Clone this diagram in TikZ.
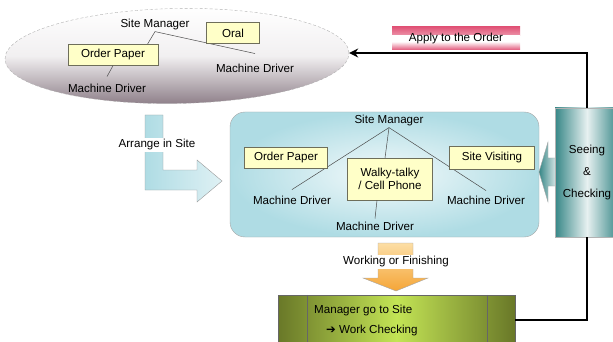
\documentclass[tikz,border=0pt]{standalone}
\usepackage{fontspec}
\setmainfont{Liberation Sans}
\newfontfamily\dejavu{DejaVu Sans}
\usetikzlibrary{shapes.geometric,arrows.meta}
\definecolor{boxy}{RGB}{255,255,200}
\definecolor{boxline}{RGB}{110,110,90}
\definecolor{ellbot}{RGB}{140,125,135}
\definecolor{pinkc}{RGB}{225,85,120}
\definecolor{bluec}{RGB}{175,220,228}
\definecolor{tealc}{RGB}{55,135,135}
\definecolor{olivec}{RGB}{105,120,40}
\definecolor{limec}{RGB}{195,228,85}
\definecolor{orlight}{RGB}{252,222,165}
\definecolor{ordark}{RGB}{245,165,55}
\definecolor{arrblue}{RGB}{175,220,228}
\tikzset{
  txt/.style={inner sep=1pt},
  ybox/.style={draw=boxline, fill=boxy, minimum height=21pt, inner sep=2pt},
  thin line/.style={draw=black!70, line width=0.5pt},
  bigline/.style={line width=2.2pt, draw=black},
  lbl/.style={fill=white, inner sep=1.5pt}
}
\begin{document}
\begin{tikzpicture}[x=1pt,y=-1pt,font=\fontsize{11.6}{13.5}\selectfont]
\useasboundingbox (0,0) rectangle (613,342);

% ---------- top ellipse ----------
\node[ellipse, minimum width=344pt, minimum height=95pt, inner sep=0, rotate=1,
      draw=gray!60, densely dashed, top color=white, bottom color=ellbot,
      middle color=white!88!ellbot] (ell) at (177,56) {};
\node[txt] (sm1) at (155,25) {Site Manager};
\node[txt] (md1r) at (255,68) {Machine Driver};
\node[txt] (md1l) at (107,88) {Machine Driver};
\draw[thin line] (sm1.south) -- (147,45);
\draw[thin line] (sm1.south) -- ([yshift=9pt]md1r.north);
\node[ybox, minimum width=53pt] (oral) at (233,33) {Oral};
\node[ybox, minimum width=90pt] (op1) at (113,55) {Order Paper};
\draw[thin line] (op1.south) -- ([yshift=6pt]md1l.north);

% ---------- Apply banner ----------
\node[minimum width=128pt, minimum height=23pt, inner sep=0,
  path picture={
    \shade[top color=pinkc, bottom color=white] (path picture bounding box.north west) rectangle ([yshift=3pt]path picture bounding box.east);
    \shade[top color=white, bottom color=pinkc] ([yshift=-3pt]path picture bounding box.west) rectangle (path picture bounding box.south east);
    \fill[white] ([yshift=3pt]path picture bounding box.west) rectangle ([yshift=-3pt]path picture bounding box.east);
  }] (apply) at (456,38.5) {Apply to the Order};

% ---------- main box ----------
\node[rounded corners=15pt, minimum width=309pt, minimum height=125pt, draw=gray!70,
      inner color=white!85!bluec, outer color=bluec] (main) at (384.5,174.5) {};
\node[txt] (sm2) at (389,121) {Site Manager};
\node[txt] (md2l) at (292,200) {Machine Driver};
\node[txt] (md2r) at (486,200) {Machine Driver};
\node[txt] (md2b) at (375,226) {Machine Driver};
\draw[thin line] (sm2.south) -- ([yshift=5pt]md2l.north);
\draw[thin line] (sm2.south) -- (385,158);
\draw[thin line] (sm2.south) -- ([yshift=4pt]md2r.north);
\node[ybox, minimum width=83pt] (op2) at (286,157.5) {Order Paper};
\node[ybox, minimum width=85pt, minimum height=42pt, align=center] (wt) at (390,179) {Walky-talky\\/ Cell Phone};
\node[ybox, minimum width=85pt, minimum height=23pt] (sv) at (492,158) {Site Visiting};
\draw[thin line] ([xshift=-13pt]wt.south) -- ([yshift=2pt]md2b.north);

% ---------- Arrange in Site arrow ----------
\draw[draw=gray!80, left color=arrblue, right color=white!60!arrblue]
  (145,115) -- (163,115) -- (163,170) -- (197,170) -- (197,160) -- (222,181)
  -- (197,202) -- (197,190) -- (145,190) -- cycle;
\node[lbl] (arr) at (157,145) {Arrange in Site};

% ---------- Seeing & Checking ----------
\draw[draw=gray!70, left color=tealc, right color=white!80!tealc]
  (556,158) -- (548,158) -- (548,142) -- (539,172) -- (548,202) -- (548,186) -- (556,186) -- cycle;
\node[minimum width=64pt, minimum height=129pt, inner sep=0, draw=gray!60,
      left color=tealc, right color=tealc, middle color=white!88!tealc,
      align=center, font=\fontsize{11.6}{22}\selectfont] (seeing) at (587,172.5)
      {Seeing\\\&\\Checking};

% ---------- Working or Finishing arrow ----------
\draw[draw=gray!70, top color=orlight, bottom color=ordark]
  (378,243) -- (413,243) -- (413,278) -- (428,278) -- (396,291) -- (363,278) -- (378,278) -- cycle;
\node[lbl] (wf) at (396,262) {Working or Finishing};

% ---------- Manager box ----------
\node[minimum width=237pt, minimum height=50pt, inner sep=0, draw=black!60,
      left color=olivec, right color=olivec, middle color=limec] (mgr) at (396.5,320) {};
\draw[black!60] ([xshift=29pt]mgr.north west) -- ([xshift=29pt]mgr.south west);
\draw[black!60] ([xshift=-28pt]mgr.north east) -- ([xshift=-28pt]mgr.south east);
\node[txt, anchor=west] (m1) at (313,310) {Manager go to Site};
\node[txt, anchor=west] (m2) at (325,330) {{\dejavu\bfseries ➔} Work Checking};

% ---------- connectors ----------
\draw[bigline, -{Stealth[length=9pt,width=9pt]}] (seeing.north) |- (ell.east);
\draw[bigline] (mgr.east) -| (seeing.south);
\end{tikzpicture}
\end{document}
